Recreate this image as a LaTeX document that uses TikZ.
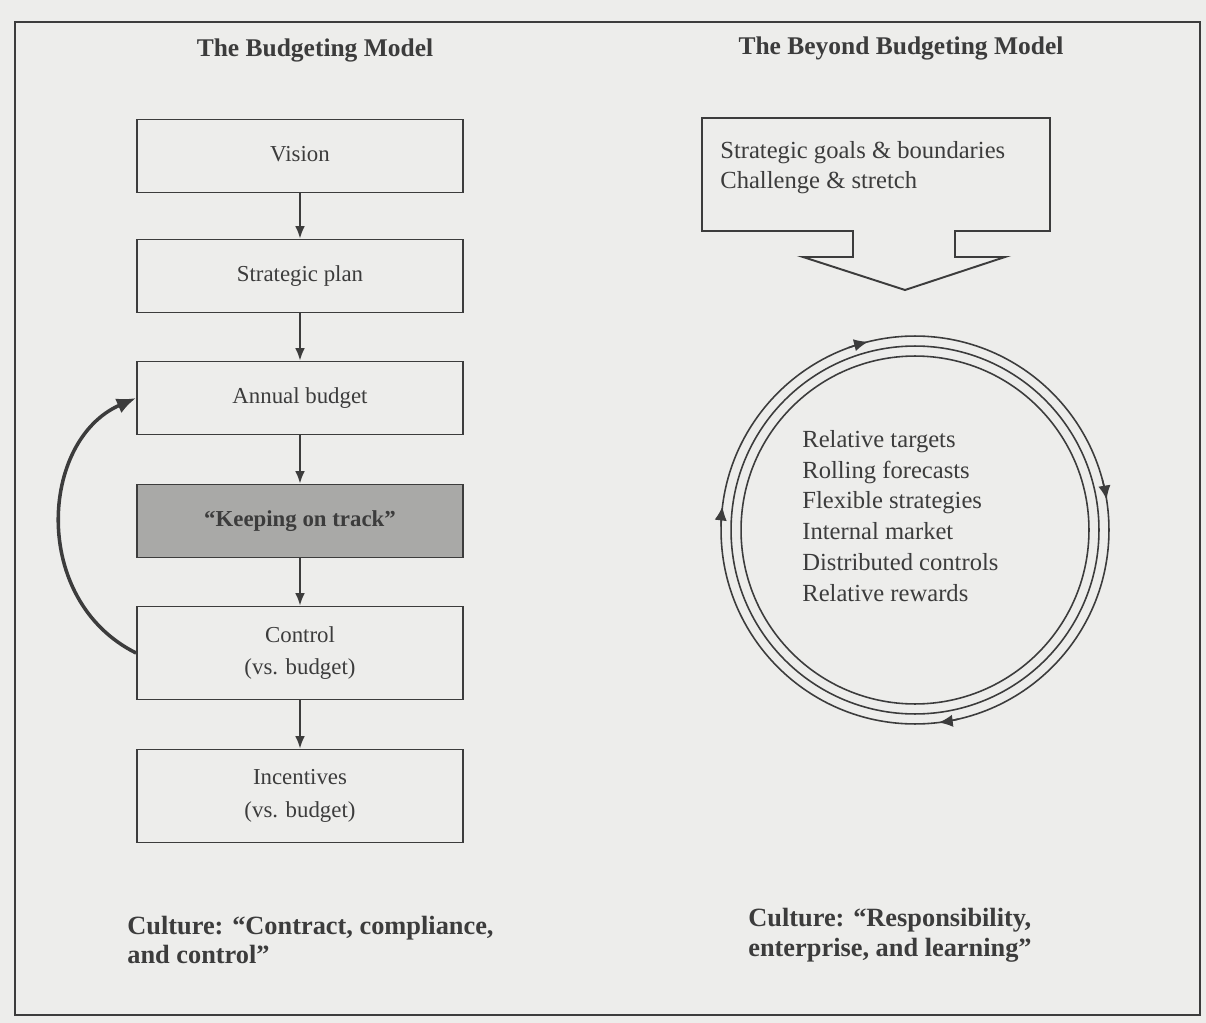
\documentclass[tikz,border=0pt]{standalone}
\usepackage{fontspec}
\setmainfont{Liberation Serif}
\usetikzlibrary{arrows.meta}
\definecolor{paper}{HTML}{EDEDEB}
\definecolor{ink}{HTML}{3C3C3C}
\definecolor{shade}{HTML}{A9A9A7}
\begin{document}
\begin{tikzpicture}[x=0.02cm,y=-0.02cm]
        \tikzset{>={Latex[length=7pt,width=5.5pt]}}
        \tikzset{box/.style={draw=ink,line width=1.1pt,minimum width=6.52cm,minimum height=1.46cm,align=center,text=ink,font=\fontsize{13}{18.5}\selectfont}}
        \tikzset{tallbox/.style={box,minimum height=1.86cm}}
        \tikzset{flow/.style={draw=ink,line width=1pt,->}}
        \tikzset{heading/.style={text=ink,font=\bfseries\fontsize{14.5}{17}\selectfont}}
        \tikzset{culture/.style={anchor=west,align=left,inner sep=0,text=ink,font=\bfseries\fontsize{15}{17}\selectfont}}
        \tikzset{ring/.style={circle,draw=ink,line width=0.9pt,inner sep=0}}
        \fill[paper] (0,0) rectangle (1206,1023);
        \draw[ink,line width=1.3pt] (15,22) rectangle (1200,1015);
        % left column
        \node[heading] (lefthead) at (315,50) {The Budgeting Model};
        \node[box] (vision) at (300,156) {Vision\vphantom{p}};
        \node[box] (plan) at (300,276) {Strategic plan};
        \node[box] (annual) at (300,398) {Annual budget};
        \node[box,fill=shade,font=\bfseries\fontsize{13}{18.5}\selectfont] (track) at (300,521) {“Keeping on track”};
        \node[tallbox] (control) at (300,653) {Control\\(vs. budget)};
        \node[tallbox] (incent) at (300,796) {Incentives\\(vs. budget)};
        \draw[flow] (vision) -- (plan);
        \draw[flow] (plan) -- (annual);
        \draw[flow] (annual) -- (track);
        \draw[flow] (track) -- (control);
        \draw[flow] (control) -- (incent);
        \draw[ink,line width=2pt,-{Latex[length=11pt,width=9pt]}] (control.west) .. controls (30,600) and (40,440) .. (annual.west);
        \node[culture] (leftculture) at (127,940) {Culture: “Contract, compliance,\\and control”};
        % right column
        \node[heading] (righthead) at (901,48) {The Beyond Budgeting Model};
        \draw[ink,line width=1.1pt] (702,118) -- (1050,118) -- (1050,231) -- (955,231) -- (955,257) -- (1005,257) -- (905,290) -- (803,257) -- (853,257) -- (853,231) -- (702,231) -- cycle;
        \node[anchor=west,align=left,inner sep=0,text=ink,font=\fontsize{14}{17}\selectfont] (goals) at (720,168) {Strategic goals \& boundaries\\Challenge \& stretch};
        \coordinate (hub) at (915,530);
        \node[ring,minimum size=7.76cm] (outer) at (hub) {};
        \node[ring,minimum size=7.36cm] (middle) at (hub) {};
        \node[ring,minimum size=6.96cm] (inner) at (hub) {};
        \begin{scope}[shift={(hub)},y=0.02cm]
            \foreach \a in {104,9,277,173}
                \draw[ink,line width=0.9pt,-{Latex[length=8pt,width=7pt]}] (\a+6:194) arc[start angle=\a+6,end angle=\a,radius=194];
        \end{scope}
        \node[anchor=west,align=left,inner sep=0,text=ink,font=\fontsize{14}{17.6}\selectfont] (items) at (802,516) {Relative targets\\Rolling forecasts\\Flexible strategies\\Internal market\\Distributed controls\\Relative rewards};
        \node[culture] (rightculture) at (748,935) {Culture: “Responsibility,\\enterprise, and learning”};
    \end{tikzpicture}
\end{document}
